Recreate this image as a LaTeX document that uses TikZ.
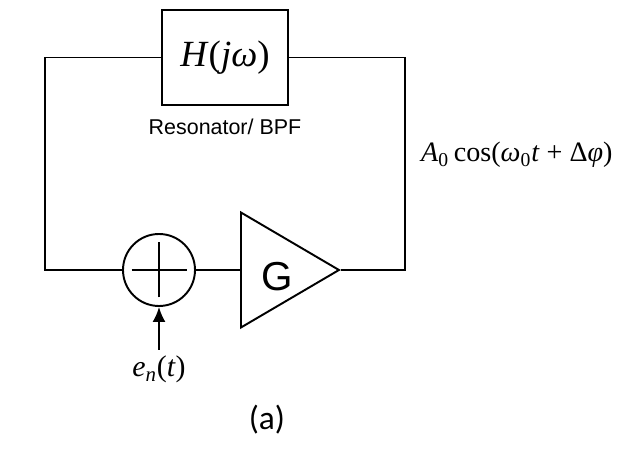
\documentclass[tikz,border=0pt]{standalone}
\usepackage{fontspec}
\setmainfont{Liberation Serif}
\setsansfont{Liberation Sans}
\newfontfamily\calfont{Carlito}
\usetikzlibrary{arrows.meta, shapes.geometric, positioning}

\tikzset{
  wire/.style={line width=1.1pt},
  blk/.style={draw, line width=1.1pt, minimum width=2.52cm, minimum height=1.9cm, inner sep=0pt},
  summer/.style={draw, circle, line width=1.1pt, minimum size=1.44cm, inner sep=0pt},
  amplifier/.style={draw, isosceles triangle, isosceles triangle stretches, line width=1.1pt,
    minimum width=2.3cm, minimum height=1.96cm, inner sep=0pt, anchor=lower side}
}

\begin{document}
\begin{tikzpicture}[>={Latex[length=3mm,width=2.6mm]}]
        \useasboundingbox (0,0) rectangle (12.5,8.98);
        \node[blk] (hjw) at (4.5,7.83) {\fontsize{21}{24}\selectfont\textit{H}(\textit{jω})};
        \node[font=\sffamily\fontsize{12.2}{14}\selectfont] (res) at (4.5,6.44) {Resonator/ BPF};
        \node[summer] (sum) at (3.18,3.58) {};
        \draw[wire] ([xshift=-0.55cm]sum.center) -- ([xshift=0.55cm]sum.center);
        \draw[wire] ([yshift=-0.55cm]sum.center) -- ([yshift=0.55cm]sum.center);
        \node[amplifier] (amp) at (4.8,3.58) {};
        \node[font=\sffamily\fontsize{23}{26}\selectfont] (g) at (5.54,3.44) {G};
        \coordinate (lc) at (0.9,3.58);
        \coordinate (rc) at (8.1,3.58);
        \coordinate (en) at (3.18,1.98);
        % loop
        \draw[wire] (hjw.west) -| (lc) -- (sum.west);
        \draw[wire] (sum.east) -- (amp.lower side);
        \draw[wire] (amp.apex) -- (rc) |- (hjw.east);
        % noise input
        \draw[wire,->] (en) -- (sum.south);
        \node[below=0pt of en, font=\fontsize{17}{20}\selectfont] (enl) {\textit{e}\textsubscript{\textit{n}}(\textit{t})};
        \node[right, font=\fontsize{16}{19}\selectfont] (out) at (8.3,5.88)
          {\textit{A}\textsubscript{0}\,cos(\textit{ω}\textsubscript{0}\textit{t} + Δ\textit{φ})};
        \node[font=\calfont\fontsize{19}{22}\selectfont] (cap) at (5.34,0.58) {(a)};
    \end{tikzpicture}
\end{document}
